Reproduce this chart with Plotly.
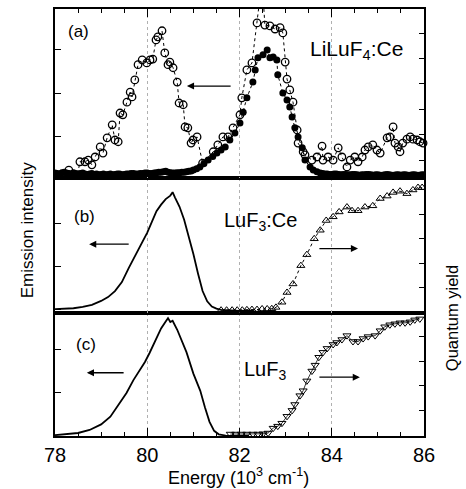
import plotly.graph_objects as go

FONT = "Liberation Sans, Arial, sans-serif"

# ---------------- Panel (a): LiLuF4:Ce ----------------
a_open_x = [78.22, 78.30, 78.37, 78.43, 78.54, 78.65, 78.72, 78.80, 78.87, 78.98, 79.04, 79.13,
            79.24, 79.30, 79.37, 79.41, 79.47, 79.56, 79.63, 79.67, 79.73, 79.80, 79.89, 79.99,
            80.06, 80.12, 80.19, 80.23, 80.32, 80.38, 80.45, 80.49, 80.56, 80.65, 80.69, 80.78,
            80.82, 80.88, 80.95, 80.99, 81.08, 81.20, 81.43, 81.53, 81.64, 81.75, 81.86, 82.01,
            82.05, 82.16, 82.27, 82.38, 82.49, 82.55, 82.66, 82.77, 82.88, 82.94, 82.99, 83.03,
            83.09, 83.16, 83.25, 83.27, 83.38, 83.42, 83.57, 83.68, 83.79, 83.81, 83.92, 84.03,
            84.14, 84.22, 84.33, 84.40, 84.50, 84.57, 84.66, 84.72, 84.79, 84.89, 84.98, 85.05,
            85.20, 85.26, 85.33, 85.37, 85.44, 85.48, 85.54, 85.63, 85.70, 85.76, 85.85, 85.91, 85.98]
a_open_y = [-0.17, 0.24, -0.26, -0.22, 0.43, 0.43, 0.47, 0.36, 0.54, 0.77, 0.63, 0.98,
            1.28, 0.93, 0.89, 1.55, 1.51, 1.80, 2.03, 1.92, 2.31, 2.66, 2.77, 2.70,
            2.77, 2.79, 3.23, 3.30, 3.44, 2.93, 2.66, 2.72, 2.59, 2.26, 1.78, 1.74,
            1.23, 1.21, 0.86, 0.93, 1.00, 0.40, 0.66, 0.82, 1.00, 1.00, 1.21, 1.51,
            1.90, 2.54, 2.70, 3.62, 4.60, 3.57, 3.55, 3.48, 3.51, 3.39, 2.72, 2.33,
            2.08, 1.80, 1.16, 0.86, 0.66, 0.59, 0.47, 0.54, 0.79, 0.47, 0.54, 0.47,
            0.75, 0.54, 0.31, 0.47, 0.54, 0.43, 0.54, 0.70, 0.77, 0.82, 0.70, 0.63,
            0.98, 1.00, 1.23, 0.86, 0.77, 0.66, 0.86, 0.95, 1.00, 0.95, 0.93, 0.89, 0.86]

a_fill_x = [78.0, 78.05, 78.1, 78.15, 78.2, 78.25, 78.3, 78.35, 78.4, 78.45, 78.5, 78.55, 78.6,
            78.65, 78.7, 78.75, 78.8, 78.85, 78.9, 78.95, 79.0, 79.05, 79.1, 79.15, 79.2, 79.25,
            79.3, 79.35, 79.4, 79.45, 79.5, 79.55, 79.6, 79.65, 79.7, 79.75, 79.8, 79.85, 79.9,
            79.95, 80.0, 80.05, 80.1, 80.15, 80.2, 80.25, 80.3, 80.35, 80.4, 80.45, 80.5, 80.55,
            80.6, 80.65, 80.7, 80.75, 80.8, 80.85, 80.9, 80.95, 81.0, 81.07,
            81.14, 81.23, 81.32, 81.42, 81.51, 81.60, 81.69, 81.79, 81.90, 82.01, 82.08, 82.16,
            82.29, 82.34, 82.40, 82.51, 82.60, 82.66, 82.73, 82.81, 82.83, 82.94, 83.03, 83.09,
            83.14, 83.20, 83.27, 83.36, 83.42, 83.53, 83.60, 83.68, 83.75, 83.8, 83.85, 83.9,
            83.95, 84.0, 84.05, 84.1, 84.15, 84.2, 84.25, 84.3, 84.35, 84.4, 84.45, 84.5, 84.55,
            84.6, 84.65, 84.7, 84.75, 84.8, 84.85, 84.9, 84.95, 85.0, 85.05, 85.1, 85.15, 85.2,
            85.25, 85.3, 85.35, 85.4, 85.45, 85.5, 85.55, 85.6, 85.65, 85.7, 85.75, 85.8, 85.85,
            85.9, 85.95, 86.0]
a_fill_y = [0.17, 0.16, 0.15, 0.18, 0.19, 0.17, 0.16, 0.15, 0.18, 0.16, 0.15, 0.16, 0.17,
            0.15, 0.14, 0.15, 0.16, 0.14, 0.15, 0.13, 0.14, 0.15, 0.13, 0.14, 0.15, 0.13,
            0.14, 0.15, 0.15, 0.13, 0.14, 0.15, 0.15, 0.16, 0.16, 0.15, 0.15, 0.16, 0.16,
            0.17, 0.17, 0.16, 0.16, 0.17, 0.18, 0.19, 0.19, 0.20, 0.21, 0.19, 0.18, 0.17,
            0.17, 0.18, 0.18, 0.19, 0.19, 0.20, 0.21, 0.22, 0.24, 0.27,
            0.31, 0.39, 0.47, 0.55, 0.63, 0.70, 0.77, 0.93, 1.09, 1.32, 1.57, 1.90,
            2.26, 2.54, 2.82, 2.89, 3.00, 2.82, 2.84, 2.77, 2.43, 2.01, 1.85, 1.69,
            1.46, 1.21, 1.00, 0.75, 0.47, 0.31, 0.24, 0.20, 0.17, 0.16, 0.15, 0.15,
            0.14, 0.14, 0.15, 0.15, 0.14, 0.13, 0.14, 0.14, 0.13, 0.13, 0.14, 0.14, 0.13,
            0.12, 0.13, 0.13, 0.14, 0.14, 0.13, 0.12, 0.13, 0.13, 0.12, 0.12, 0.13, 0.14,
            0.13, 0.12, 0.12, 0.13, 0.13, 0.12, 0.13, 0.13, 0.12, 0.12, 0.13, 0.13, 0.12,
            0.12, 0.13, 0.13]

# ---------------- Panel (b): LuF3:Ce ----------------
b_em_x = [78.0, 78.2, 78.4, 78.6, 78.8, 79.0, 79.15, 79.3, 79.45, 79.6, 79.75, 79.9, 80.0,
          80.1, 80.2, 80.3, 80.4, 80.5, 80.55, 80.6, 80.7, 80.8, 80.9, 81.0, 81.1, 81.2,
          81.3, 81.4, 81.5, 81.6, 81.8, 82.0, 82.3]
b_em_y = [0.02, 0.03, 0.04, 0.07, 0.12, 0.21, 0.30, 0.44, 0.65, 0.98, 1.28, 1.60, 1.80,
          2.05, 2.30, 2.45, 2.58, 2.66, 2.74, 2.62, 2.40, 2.10, 1.72, 1.30, 0.85, 0.44,
          0.20, 0.08, 0.03, 0.00, -0.01, -0.02, -0.01]

b_qy_x = [81.60, 81.72, 81.84, 81.95, 82.06, 82.16, 82.27, 82.38, 82.49, 82.60, 82.70, 82.79,
          82.92, 83.03, 83.16, 83.33, 83.46, 83.62, 83.75, 83.88, 84.03, 84.16, 84.33, 84.44,
          84.57, 84.72, 84.89, 85.05, 85.20, 85.33, 85.48, 85.63, 85.76, 85.87, 85.96]
b_qy_y = [0.015, 0.015, 0.015, 0.015, 0.015, 0.018, 0.02, 0.02, 0.025, 0.025, 0.027, 0.038,
          0.08, 0.16, 0.23, 0.38, 0.47, 0.60, 0.67, 0.75, 0.78, 0.82, 0.86, 0.83,
          0.83, 0.86, 0.87, 0.93, 0.95, 0.98, 0.99, 0.97, 1.00, 1.02, 1.02]

# ---------------- Panel (c): LuF3 ----------------
c_em_x = [78.0, 78.25, 78.5, 78.75, 79.0, 79.2, 79.4, 79.55, 79.7, 79.85, 79.95, 80.05, 80.2,
          80.3, 80.4, 80.45, 80.5, 80.55, 80.65, 80.75, 80.85, 81.0, 81.15, 81.25, 81.35,
          81.45, 81.55, 81.7, 81.9, 82.2]
c_em_y = [0.02, 0.04, 0.07, 0.14, 0.27, 0.45, 0.75, 1.00, 1.30, 1.55, 1.72, 1.93, 2.28,
          2.50, 2.66, 2.74, 2.65, 2.68, 2.47, 2.23, 1.95, 1.45, 1.05, 0.67, 0.33,
          0.12, 0.04, 0.01, 0.00, 0.01]

c_qy_x = [81.80, 81.92, 82.04, 82.16, 82.29, 82.40, 82.51, 82.62, 82.73, 82.83, 82.92, 83.03,
          83.14, 83.20, 83.31, 83.38, 83.46, 83.57, 83.64, 83.72, 83.81, 83.90, 84.03, 84.11,
          84.22, 84.33, 84.46, 84.57, 84.68, 84.79, 84.94, 85.05, 85.15, 85.26, 85.37, 85.48,
          85.59, 85.70, 85.80, 85.91]
c_qy_y = [0.008, 0.008, 0.008, 0.008, 0.008, 0.008, 0.010, 0.016, 0.056, 0.072, 0.096, 0.152,
          0.20, 0.248, 0.32, 0.36, 0.44, 0.52, 0.568, 0.632, 0.672, 0.704, 0.736, 0.752,
          0.776, 0.808, 0.76, 0.76, 0.784, 0.80, 0.808, 0.848, 0.88, 0.896, 0.904, 0.912,
          0.912, 0.92, 0.936, 0.944]

x_ticks = [78, 80, 82, 84, 86]

fig = go.Figure()

# panel (a)
fig.add_trace(go.Scatter(x=a_fill_x, y=a_fill_y, xaxis="x3", yaxis="y5", mode="lines+markers",
                         line=dict(color="black", width=1, dash="dot"),
                         marker=dict(symbol="circle", size=7, color="black"),
                         showlegend=False, cliponaxis=True))
fig.add_trace(go.Scatter(x=a_open_x, y=a_open_y, xaxis="x3", yaxis="y5", mode="lines+markers",
                         line=dict(color="black", width=1, dash="dot"),
                         marker=dict(symbol="circle-open", size=7.5, color="black",
                                     line=dict(width=1.3, color="black")),
                         showlegend=False, cliponaxis=False))
fig.add_trace(go.Scatter(x=[], y=[], xaxis="x3", yaxis="y6", showlegend=False))

# panel (b)
fig.add_trace(go.Scatter(x=b_em_x, y=b_em_y, xaxis="x2", yaxis="y3", mode="lines",
                         line=dict(color="black", width=1.8), showlegend=False))
fig.add_trace(go.Scatter(x=b_qy_x, y=b_qy_y, xaxis="x2", yaxis="y4", mode="lines+markers",
                         line=dict(color="black", width=1, dash="dot"),
                         marker=dict(symbol="triangle-up-open", size=7, color="black",
                                     line=dict(width=1, color="black")),
                         showlegend=False))

# panel (c)
fig.add_trace(go.Scatter(x=c_em_x, y=c_em_y, xaxis="x", yaxis="y", mode="lines",
                         line=dict(color="black", width=1.8), showlegend=False))
fig.add_trace(go.Scatter(x=c_qy_x, y=c_qy_y, xaxis="x", yaxis="y2", mode="lines+markers",
                         line=dict(color="black", width=0.8),
                         marker=dict(symbol="triangle-down-open", size=7, color="black",
                                     line=dict(width=1, color="black")),
                         showlegend=False))

dom_c = [0, 0.2881]
dom_b = [0.2881, 0.6042]
dom_a = [0.6042, 1.0]

grid = dict(showgrid=True, gridcolor="#b0b0b0", griddash="dot", gridwidth=1)
xbase = dict(range=[78, 86], tickvals=x_ticks, showline=True, linecolor="black", linewidth=2,
             mirror=True, zeroline=False, **grid)
ybase = dict(showline=True, linecolor="black", linewidth=2, ticks="inside",
             tickwidth=1.3, tickcolor="black", showticklabels=False, showgrid=False, zeroline=False)
minor_x = dict(dtick=0.5, ticks="inside", ticklen=4, tickwidth=1.2, tickcolor="black",
               showgrid=False)

fig.update_layout(
    width=466, height=489,
    margin=dict(l=55, r=42, t=9, b=53),
    paper_bgcolor="white", plot_bgcolor="white",
    font=dict(family=FONT, color="black", size=16),
    xaxis=dict(**xbase, anchor="y", domain=[0, 1], ticks="inside", ticklen=8, tickwidth=1.3,
               tickcolor="black", tickfont=dict(size=20, family=FONT, color="black"),
               minor=minor_x),
    xaxis2=dict(**xbase, anchor="y3", matches="x", showticklabels=False, ticks=""),
    xaxis3=dict(**xbase, anchor="y5", matches="x", side="top", showticklabels=False,
                ticks="inside", ticklen=8, tickwidth=1.3, tickcolor="black", minor=minor_x),
    yaxis=dict(**ybase, ticklen=6, domain=dom_c, anchor="x", range=[0, 2.86], tickvals=[0, 1, 2]),
    yaxis2=dict(**ybase, ticklen=5, overlaying="y", side="right", anchor="x",
                range=[-0.008, 0.992], tickvals=[0, 0.2, 0.4, 0.6, 0.8, 1.0]),
    yaxis3=dict(**ybase, ticklen=6, domain=dom_b, anchor="x2", range=[-0.07, 3.07],
                tickvals=[0, 1, 2]),
    yaxis4=dict(**ybase, ticklen=5, overlaying="y3", side="right", anchor="x2",
                range=[-0.008, 1.098], tickvals=[0, 0.2, 0.4, 0.6, 0.8, 1.0]),
    yaxis5=dict(**ybase, ticklen=6, domain=dom_a, anchor="x3", range=[0.057, 3.94],
                tickvals=[1, 2, 3]),
    yaxis6=dict(**ybase, ticklen=5, overlaying="y5", side="right", anchor="x3",
                range=[0.295, 6.95], tickvals=[1, 2, 3, 4, 5, 6]),
)


def label(text, x, y, size, angle=0):
    return dict(text=text, x=x, y=y, xref="paper", yref="paper", showarrow=False,
                xanchor="center", yanchor="middle", textangle=angle,
                font=dict(size=size, family=FONT, color="black"))


ann = [
    label("(a)", 0.065, 0.948, 17),
    label("LiLuF<sub>4</sub>:Ce", 0.818, 0.904, 21),
    label("(b)", 0.081, 0.515, 17),
    label("LuF<sub>3</sub>:Ce", 0.556, 0.502, 20),
    label("(c)", 0.084, 0.215, 17),
    label("LuF<sub>3</sub>", 0.569, 0.153, 20),
    label("Emission intensity", -0.0745, 0.483, 17, -90),
    label("Quantum yield", 1.076, 0.276, 16.5, -90),
    label("Energy (10<sup>3</sup> cm<sup>-1</sup>)", 0.496, -0.0937, 18),
]


def arrow(xh, yh, xt, yt, xr, yr):
    return dict(x=xh, y=yh, ax=xt, ay=yt, xref=xr, yref=yr, axref=xr, ayref=yr, text="",
                showarrow=True, arrowhead=2, arrowsize=1.1, arrowwidth=1.3, arrowcolor="black")


ann.append(arrow(80.86, 2.17, 81.84, 2.17, "x3", "y5"))
ann.append(arrow(78.74, 1.53, 79.63, 1.53, "x2", "y3"))
ann.append(arrow(84.57, 0.52, 83.70, 0.52, "x2", "y4"))
ann.append(arrow(78.69, 1.47, 79.52, 1.47, "x", "y"))
ann.append(arrow(84.61, 0.47, 83.70, 0.47, "x", "y2"))

fig.update_layout(annotations=ann)

fig.write_html("out.html")
